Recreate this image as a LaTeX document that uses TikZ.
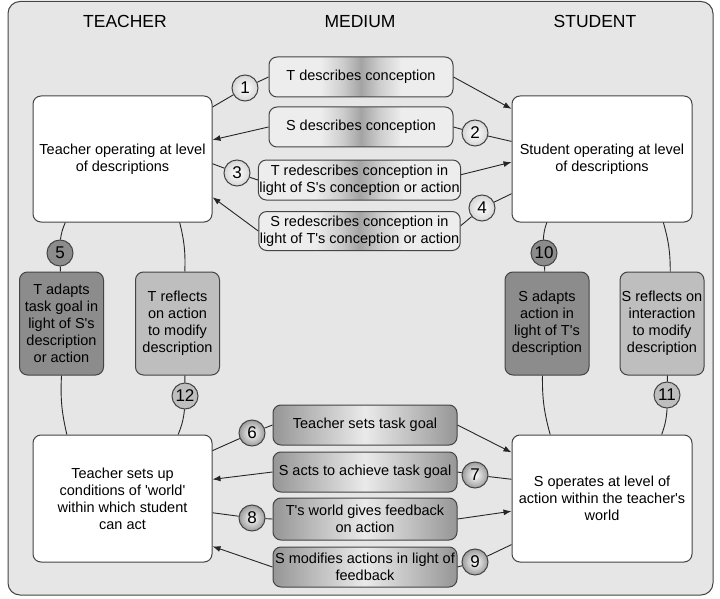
\documentclass[tikz,border=0pt]{standalone}
\usepackage{fontspec}
\setmainfont{Liberation Sans}
\usetikzlibrary{arrows.meta,calc}
\definecolor{bg}{HTML}{E6E6E6}
\definecolor{edge}{HTML}{444444}
\definecolor{darkfill}{HTML}{8C8C8C}
\definecolor{lightfill}{HTML}{BEBEBE}
\definecolor{medlight}{HTML}{EDEDED}
\definecolor{bandmid}{HTML}{CDCDCD}
\definecolor{bandc}{HTML}{A4A4A4}
\definecolor{barrel}{HTML}{969696}
\definecolor{barrelmid}{HTML}{EAEAEA}
\definecolor{ballout}{HTML}{9C9C9C}
\definecolor{topout}{HTML}{D6D6D6}
\pgfdeclarehorizontalshading{centreband}{100bp}{color(0bp)=(medlight); color(39bp)=(medlight); color(45bp)=(bandmid); color(50bp)=(bandc); color(55bp)=(bandmid); color(61bp)=(medlight); color(100bp)=(medlight)}
\newcommand{\dgbody}{\fontsize{14.5}{17}\selectfont}
\newcommand{\dgtitle}{\fontsize{17.5}{21}\selectfont}
\newcommand{\dgnum}{\fontsize{17}{19}\selectfont}
\newcommand{\ap}{\textquotesingle}
\tikzset{
  mainbox/.style={draw=edge, line width=1pt, fill=white, rounded corners=8pt, align=center, font=\dgbody, inner sep=2pt},
  topmed/.style={draw=edge, line width=1pt, rounded corners=8pt, shade, shading=centreband, align=center, font=\dgbody, inner sep=1pt},
  botmed/.style={draw=edge, line width=1pt, rounded corners=8pt, left color=barrel, right color=barrel, middle color=barrelmid, align=center, font=\dgbody, inner sep=1pt},
  sidebox/.style={draw=edge, line width=1pt, rounded corners=8pt, align=center, font=\dgbody, inner sep=1pt, minimum width=84pt, minimum height=103pt},
  darkside/.style={sidebox, fill=darkfill},
  lightside/.style={sidebox, fill=lightfill},
  num/.style={circle, draw=edge, line width=1pt, minimum size=26pt, inner sep=0pt, font=\dgnum},
  numtop/.style={num, inner color=white, outer color=topout},
  numball/.style={num, inner color=white, outer color=ballout},
  numdark/.style={num, fill=darkfill},
  numlight/.style={num, fill=lightfill},
  title/.style={font=\dgtitle, anchor=base, inner sep=0pt},
  conn/.style={draw=black!85, line width=0.9pt},
  arr/.style={conn, -{Latex[length=8pt,width=6pt]}}
}
\begin{document}
\begin{tikzpicture}[x=1pt,y=-1pt]
\useasboundingbox (0,0) rectangle (720,599);
\draw[draw=edge, fill=bg, line width=1pt, rounded corners=12pt] (8,1.5) rectangle (713,595);

% titles
\node[title] (tT) at (125,28) {TEACHER};
\node[title] (tM) at (360,28) {MEDIUM};
\node[title] (tS) at (595,28) {STUDENT};

% main boxes
\node[mainbox, minimum width=179pt, minimum height=126pt] (tl) at (122.5,159) {Teacher operating at level\\of descriptions};
\node[mainbox, minimum width=180pt, minimum height=126pt] (st) at (602,159) {Student operating at level\\of descriptions};
\node[mainbox, minimum width=179pt, minimum height=127pt] (tb) at (122.5,498.5) {Teacher sets up\\conditions of \ap world\ap\\within which student\\can act};
\node[mainbox, minimum width=180pt, minimum height=127pt] (sb) at (602,498.5) {S operates at level of\\action within the teacher\ap s\\world};

% medium, descriptions
\node[topmed, minimum width=184pt, minimum height=40pt] (m1) at (361,77) {T describes conception};
\node[topmed, minimum width=184pt, minimum height=40pt] (m2) at (361,127) {S describes conception};
\node[topmed, minimum width=201pt, minimum height=40pt] (m3) at (359.5,180) {T redescribes conception in\\light of S\ap s conception or action};
\node[topmed, minimum width=201pt, minimum height=39pt] (m4) at (359.5,231) {S redescribes conception in\\light of T\ap s conception or action};

% medium, actions
\node[botmed, minimum width=184pt, minimum height=40pt] (m6) at (365,425) {Teacher sets task goal};
\node[botmed, minimum width=184pt, minimum height=40pt] (m7) at (365,472) {S acts to achieve task goal};
\node[botmed, minimum width=184pt, minimum height=42pt] (m8) at (365,519) {T\ap s world gives feedback\\on action};
\node[botmed, minimum width=184pt, minimum height=40pt] (m9) at (365,567) {S modifies actions in light of\\feedback};

% side boxes
\node[darkside] (b5) at (61.5,323.5) {T adapts\\task goal in\\light of S\ap s\\description\\or action};
\node[lightside] (b12) at (177.5,323.5) {T reflects\\on action\\to modify\\description};
\node[darkside] (b10) at (547,323.5) {S adapts\\action in\\light of T\ap s\\description};
\node[lightside] (b11) at (662,323.5) {S reflects on\\interaction\\to modify\\description};

% numbers
\node[numtop] (c1) at (245,88) {1};
\node[numtop] (c2) at (475,133) {2};
\node[numtop] (c3) at (237,173) {3};
\node[numtop] (c4) at (482,208) {4};
\node[numdark] (c5) at (60,253) {5};
\node[numball] (c6) at (252,433) {6};
\node[numball] (c7) at (475,475) {7};
\node[numball] (c8) at (252,518) {8};
\node[numball] (c9) at (475,562) {9};
\node[numdark] (c10) at (544,253) {10};
\node[numlight] (c11) at (667,395) {11};
\node[numlight] (c12) at (185,396) {12};

% description connectors
\draw[conn] (tl.30) -- (c1);
\draw[conn] (c1) -- (m1.west);
\draw[arr] (m1.east) -- (st.151);
\draw[conn] (st.169) -- (c2);
\draw[conn] (c2) -- (m2.east);
\draw[arr] (m2.west) -- (tl.12);
\draw[conn] (tl.-3) -- (c3);
\draw[conn] (c3) -- (m3.west);
\draw[arr] (m3.3) -- (st.182);
\draw[conn] (st.-159) -- (c4);
\draw[conn] (c4) -- (m4.3);
\draw[arr] (m4.west) -- (tl.-23);

% action connectors
\draw[conn] (tb.28) -- (c6);
\draw[conn] (c6) -- (m6.west);
\draw[arr] (m6.east) -- (sb.153);
\draw[conn] (sb.168) -- (c7);
\draw[conn] (c7) -- (m7.east);
\draw[arr] (m7.west) -- (tb.12);
\draw[conn] (tb.-9) -- (c8);
\draw[conn] (c8) -- (m8.west);
\draw[arr] (m8.east) -- (sb.-172);
\draw[conn] (sb.-153) -- (c9);
\draw[conn] (c9) -- (m9.east);
\draw[arr] (m9.west) -- (tb.-28);

% side connectors, teacher
\draw[conn] (tl.-132) to[bend right=8] (c5);
\draw[conn] (c5) -- (b5);
\draw[conn] (b5.south) to[bend right=8] (tb.131);
\draw[conn] (tl.-48) to[bend left=8] (b12.82);
\draw[conn] (b12.-82) -- (c12);
\draw[conn] (c12) to[bend left=8] (tb.49);

% side connectors, student
\draw[conn] (st.-131) to[bend right=8] (c10);
\draw[conn] (c10) -- (b10);
\draw[conn] (b10.-95) to[bend right=8] (sb.129);
\draw[conn] (st.-46) to[bend left=8] (b11.81);
\draw[conn] (b11.-84) -- (c11);
\draw[conn] (c11) to[bend left=8] (sb.47);
\end{tikzpicture}
\end{document}
